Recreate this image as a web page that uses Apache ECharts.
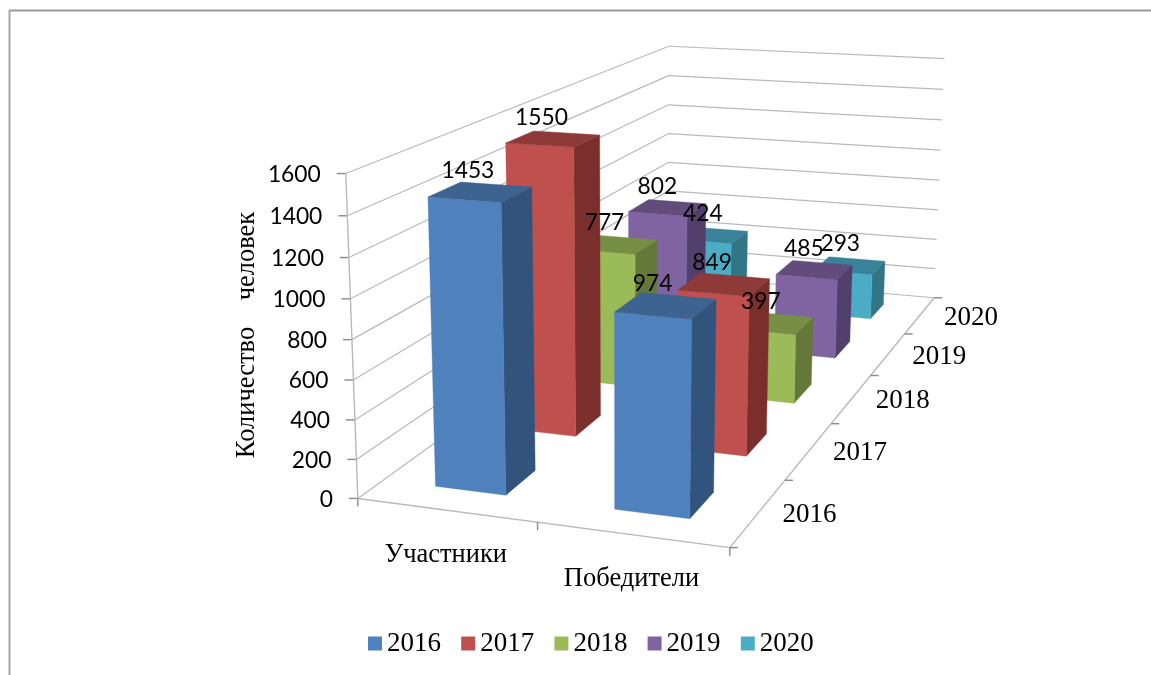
<!DOCTYPE html>
<html><head><meta charset="utf-8">
<style>html,body{margin:0;padding:0;background:#fff}#c{width:1151px;height:675px}</style>
<script src="https://cdn.jsdelivr.net/npm/echarts@6/dist/echarts.min.js"></script>
</head><body><div id="c"></div>
<script>
const categories = ['Участники', 'Победители'];
const years = ['2016', '2017', '2018', '2019', '2020'];
const values2016 = [1453, 974];
const values2017 = [1550, 849];
const values2018 = [777, 397];
const values2019 = [802, 485];
const values2020 = [424, 293];
const valueTicks = [0, 200, 400, 600, 800, 1000, 1200, 1400, 1600];
const valueTitle = 'Количество\u00a0\u00a0\u00a0\u00a0человек';

const seriesValues = [values2016, values2017, values2018, values2019, values2020];
const faceColors = [
  { front: '#4F81BD', top: '#3D6490', side: '#32547C' },
  { front: '#C0504D', top: '#8E3A38', side: '#7A2F2D' },
  { front: '#9BBB59', top: '#778F44', side: '#647839' },
  { front: '#8064A2', top: '#624C7C', side: '#533F6B' },
  { front: '#4BACC6', top: '#39839A', side: '#327586' }
];

// Camera calibrated on the chart box: [x, v, z] (unit cube) -> screen
const calib = [
  [0, 0, 0, 357.7, 497.7], [1, 0, 0, 730, 548.3], [1, 0, 1, 934, 297], [0, 0, 1, 667.5, 276],
  [0, 1, 0, 345.7, 174], [0, 1, 1, 669, 45.7], [1, 1, 1, 944.3, 59],
  [0, .5, 0, 352, 339.3], [1, .5, 1, 939.5, 180]
];
function solveCamera(pts) {
  const A = Array.from({ length: 11 }, () => new Array(12).fill(0));
  function add(r, b) { for (let i = 0; i < 11; i++) { for (let j = 0; j < 11; j++) A[i][j] += r[i] * r[j]; A[i][11] += r[i] * b; } }
  pts.forEach(([x, y, z, u0, v0]) => {
    const u = u0 / 1000, v = v0 / 1000;
    add([x, y, z, 1, 0, 0, 0, 0, -u * x, -u * y, -u * z], u);
    add([0, 0, 0, 0, x, y, z, 1, -v * x, -v * y, -v * z], v);
  });
  for (let i = 0; i < 11; i++) {
    let p = i; for (let k = i + 1; k < 11; k++) if (Math.abs(A[k][i]) > Math.abs(A[p][i])) p = k;
    [A[i], A[p]] = [A[p], A[i]];
    for (let k = 0; k < 11; k++) if (k !== i) { const f = A[k][i] / A[i][i]; for (let j = i; j < 12; j++) A[k][j] -= f * A[i][j]; }
  }
  return A.map((r, i) => r[11] / r[i]);
}
const P = solveCamera(calib);
function proj(x, y, z) {
  const w = P[8] * x + P[9] * y + P[10] * z + 1;
  return [1000 * (P[0] * x + P[1] * y + P[2] * z + P[3]) / w, 1000 * (P[4] * x + P[5] * y + P[6] * z + P[7]) / w];
}

// Hidden cartesian supplies the scales: category band and value scale to the unit cube
const G = { left: 100, top: 100, width: 100, height: 100 };
function unit(api, cat, val) {
  const c = api.coord([cat, val]);
  return [(c[0] - G.left) / G.width, (G.top + G.height - c[1]) / G.height];
}
const barWidthFrac = 0.40, barDepthFrac = 0.40, labelShiftX = -0.035;

function renderBar(yearIdx) {
  return function (params, api) {
    const [cx, vy] = unit(api, api.value(0), api.value(1));
    const band = api.size([1, 0])[0] / G.width;
    const hw = band * barWidthFrac / 2;
    const x0 = cx - hw, x1 = cx + hw;
    const zc = (yearIdx + .5) / years.length, hd = barDepthFrac / years.length / 2;
    const z0 = zc - hd, z1 = zc + hd;
    const col = faceColors[yearIdx];
    const poly = (pts, fill) => ({ type: 'polygon', shape: { points: pts }, style: { fill, stroke: fill, lineWidth: .4 } });
    return { type: 'group', children: [
      poly([proj(x1, 0, z0), proj(x1, 0, z1), proj(x1, vy, z1), proj(x1, vy, z0)], col.side),
      poly([proj(x0, 0, z0), proj(x1, 0, z0), proj(x1, vy, z0), proj(x0, vy, z0)], col.front),
      poly([proj(x0, vy, z0), proj(x1, vy, z0), proj(x1, vy, z1), proj(x0, vy, z1)], col.top)
    ] };
  };
}
const serif = '"Liberation Serif", serif';
const sans = 'Lato, sans-serif';
function line(a, b, stroke, lw) {
  return { type: 'line', shape: { x1: a[0], y1: a[1], x2: b[0], y2: b[1] }, style: { stroke, lineWidth: lw || 1 } };
}
function text(x, y, t, font, size, align, rot, sx) {
  const el = { type: 'text', x, y, style: { text: t, fontFamily: font, fontSize: size, fill: '#000', align: align || 'center', verticalAlign: 'middle' } };
  if (rot) el.rotation = rot;
  if (sx) el.scaleX = sx;
  return el;
}
const gridCol = '#b9b9b9', axisCol = '#8a8a8a';
function renderFrame(params, api) {
  const ch = [];
  valueTicks.forEach(t => {
    const vy = unit(api, 0, t)[1];
    const a = proj(0, vy, 0), b = proj(0, vy, 1), c = proj(1, vy, 1);
    ch.push(line(a, b, gridCol, 1.2), line(b, c, gridCol, 1.2));
    ch.push(line(a, [a[0] - 9, a[1]], axisCol, 1.4));
    ch.push(text(a[0] - 25, a[1] + .5, String(t), sans, 24, 'right', 0, .95));
  });
  ch.push(line(proj(0, 0, 0), proj(0, 1, 0), gridCol, 1.4));
  ch.push(line(proj(0, 0, 0), proj(1, 0, 0), gridCol, 1.4));
  ch.push(line(proj(1, 0, 0), proj(1, 0, 1), gridCol, 1.4));
  [0, .5, 1].forEach(x => { const p = proj(x, 0, 0); ch.push(line(p, [p[0], p[1] + 8], axisCol, 1.4)); });
  for (let i = 0; i <= years.length; i++) { const p = proj(1, 0, i / years.length); ch.push(line(p, [p[0] + 8, p[1]], axisCol, 1.4)); }
  years.forEach((y, i) => { const p = proj(1, 0, (i + .5) / years.length); ch.push(text(p[0] + 51, p[1] + 2.5, y, serif, 27)); });
  categories.forEach((c, i) => { const p = proj(unit(api, i, 0)[0], 0, 0); ch.push(text(p[0] - .5, p[1] + 44.5, c, serif, 26.5)); });
  ch.push(text(247, 335, valueTitle, serif, 26.5, 'center', Math.PI / 2));
  return { type: 'group', children: ch };
}
function renderLabel(params, api) {
  const yi = api.value(2);
  const [cx, vy] = unit(api, api.value(0), api.value(1));
  const p = proj(cx + labelShiftX, vy, (yi + .5) / years.length);
  return text(p[0], p[1] - 21, String(api.value(1)), sans, 24, 'center', 0, .95);
}
const labelData = [];
seriesValues.forEach((vals, yi) => vals.forEach((v, ci) => labelData.push([ci, v, yi])));

const barSeries = years.map((y, i) => ({
  type: 'custom', name: y, coordinateSystem: 'cartesian2d', z: 3 + (years.length - i), silent: true,
  itemStyle: { color: faceColors[i].front }, encode: { x: 0, y: 1 },
  data: seriesValues[i].map((v, ci) => [ci, v]),
  renderItem: renderBar(i)
}));

const chart = echarts.init(document.getElementById('c'), null, { renderer: 'canvas' });
chart.setOption({
  animation: false,
  backgroundColor: '#fff',
  grid: { left: G.left, top: G.top, width: G.width, height: G.height, show: false },
  xAxis: { type: 'category', data: categories, show: false },
  yAxis: { type: 'value', min: 0, max: 1600, interval: 200, show: false },
  legend: {
    data: years, left: 368, top: 630, padding: 0, icon: 'rect', itemWidth: 14, itemHeight: 14, itemGap: 20.2,
    textStyle: { fontFamily: serif, fontSize: 27, color: '#000' }, selectedMode: false
  },
  graphic: [
    { type: 'line', shape: { x1: 9, y1: 10.5, x2: 1151, y2: 10.5 }, style: { stroke: '#9a9a9a', lineWidth: 2 }, silent: true },
    { type: 'line', shape: { x1: 9.5, y1: 10, x2: 9.5, y2: 675 }, style: { stroke: '#a6a6a6', lineWidth: 2 }, silent: true }
  ],
  series: [
    { type: 'custom', name: 'frame', z: 1, silent: true, encode: { x: 0, y: 1 }, data: [[0, 0]], renderItem: renderFrame }
  ].concat(barSeries, [
    { type: 'custom', name: 'labels', z: 20, silent: true, encode: { x: 0, y: 1 }, data: labelData, renderItem: renderLabel }
  ])
});
</script></body></html>
